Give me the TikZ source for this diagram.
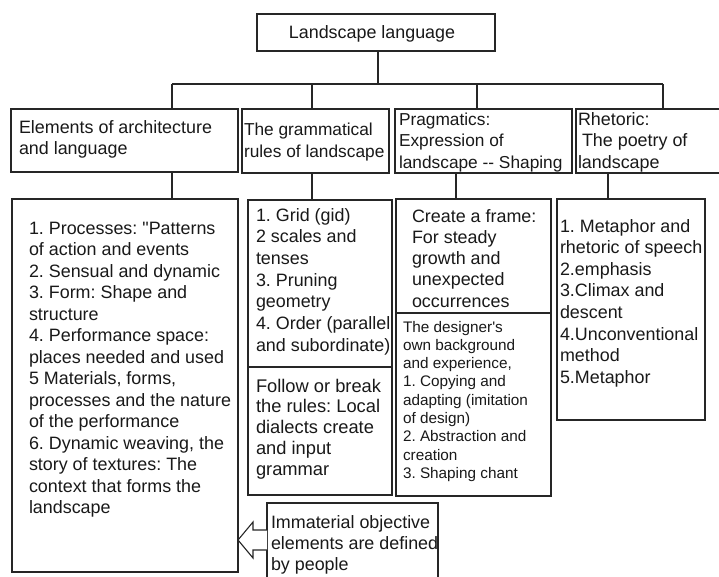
\documentclass[tikz,border=0pt]{standalone}
\usepackage{fontspec}
\setmainfont{Liberation Sans}
\frenchspacing
\newcommand\tlines[3]{{\fontsize{#1}{#2}\selectfont\begin{tabular}[t]{@{}l@{}}#3\end{tabular}}}
\begin{document}
\begin{tikzpicture}[x=1pt,y=-1pt,
  box/.style={draw=black!85, line width=1.1pt, fill=white, anchor=north west, inner sep=0, outer sep=0},
  txt/.style={anchor=base west, inner sep=0, outer sep=0, text=black!90},
  conn/.style={draw=black!85, line width=1.1pt}]
\useasboundingbox (0,0) rectangle (719,576);
\fill[white] (0,0) rectangle (719,576);

% boxes
\node[box, minimum width=238, minimum height=37] (top) at (257,14) {};
\node[box, minimum width=227, minimum height=63] (h1) at (11,109) {};
\node[box, minimum width=147, minimum height=64] (h2) at (242,109) {};
\node[box, minimum width=177, minimum height=64] (h3) at (395,109) {};
\node[box, minimum width=146, minimum height=64] (h4) at (576,109) {};
\node[box, minimum width=226, minimum height=373] (b1) at (12,199) {};
\node[box, minimum width=144, minimum height=167] (b2a) at (248,200) {};
\node[box, minimum width=144, minimum height=128] (b2b) at (248,367) {};
\node[box, minimum width=155, minimum height=114] (b3a) at (396,199) {};
\node[box, minimum width=155, minimum height=183] (b3b) at (396,313) {};
\node[box, minimum width=148, minimum height=221] (b4) at (557,199) {};
\node[box, minimum width=171, minimum height=90] (call) at (267,503) {};

% connectors
\coordinate (tc) at (378,84);
\coordinate (bus1) at (172,84);
\coordinate (bus2) at (312,84);
\coordinate (bus3) at (477,84);
\coordinate (bus4) at (663,84);
\coordinate (l1) at (172,0);
\coordinate (l2) at (312,0);
\coordinate (l3) at (456,0);
\coordinate (l4) at (608,0);
\draw[conn] (top.south -| tc) -- (tc);
\draw[conn] (bus1) -- (bus4);
\draw[conn] (bus1) -- (bus1 |- h1.north);
\draw[conn] (bus2) -- (bus2 |- h2.north);
\draw[conn] (bus3) -- (bus3 |- h3.north);
\draw[conn] (bus4) -- (bus4 |- h4.north);
\draw[conn] (h1.south -| l1) -- (b1.north -| l1);
\draw[conn] (h2.south -| l2) -- (b2a.north -| l2);
\draw[conn] (h3.south -| l3) -- (b3a.north -| l3);
\draw[conn] (h4.south -| l4) -- (b4.north -| l4);

% hollow arrow
\coordinate (aw) at (267,540);
\draw[conn, fill=white, line join=miter] (aw) ++(0,-10) -- ++(-14,0) -- ++(0,-8) -- ++(-15,18) -- ++(15,18) -- ++(0,-8) -- ++(14,0);

% texts
\node[anchor=base, inner sep=0, text=black!90] (ttop) at (372,38) {\fontsize{17.9}{21.5}\selectfont Landscape language};
\node[txt] (th1) at (19,133) {\tlines{17.9}{21}{Elements of architecture\\and language}};
\node[txt] (th2) at (244,135) {\tlines{17.3}{22}{The grammatical\\rules of landscape}};
\node[txt] (th3) at (399,125) {\tlines{17.3}{21.5}{Pragmatics:\\Expression of\\landscape -{}- Shaping}};
\node[txt] (th4) at (578,125) {\tlines{17.9}{21.5}{Rhetoric:\\\hspace{4pt}The poetry of\\landscape}};
\node[txt] (tb1) at (29,234) {\tlines{17.9}{21.5}{1. Processes: \textquotedbl Patterns\\of action and events\\2. Sensual and dynamic\\3. Form: Shape and\\structure\\4. Performance space:\\places needed and used\\5 Materials, forms,\\processes and the nature\\of the performance\\6. Dynamic weaving, the\\story of textures: The\\context that forms the\\landscape}};
\node[txt] (tb2a) at (256,221) {\tlines{17.9}{21.7}{1. Grid (gid)\\2 scales and\\tenses\\3. Pruning\\geometry\\4. Order (parallel\\and subordinate)}};
\node[txt] (tb2b) at (256,392) {\tlines{18.3}{20.8}{Follow or break\\the rules: Local\\dialects create\\and input\\grammar}};
\node[txt] (tb3a) at (412,222) {\tlines{17.9}{21.3}{Create a frame:\\For steady\\growth and\\unexpected\\occurrences}};
\node[txt] (tb3b) at (403,332) {\tlines{15.3}{18.3}{The designer\textquotesingle s\\own background\\and experience,\\1. Copying and\\adapting (imitation\\of design)\\2. Abstraction and\\creation\\3. Shaping chant}};
\node[txt] (tb4) at (560,232) {\tlines{17.9}{21.6}{1. Metaphor and\\rhetoric of speech\\2.emphasis\\3.Climax and\\descent\\4.Unconventional\\method\\5.Metaphor}};
\node[txt] (tcall) at (271,528) {\tlines{17.9}{21}{Immaterial objective\\elements are defined\\by people}};
\end{tikzpicture}
\end{document}
